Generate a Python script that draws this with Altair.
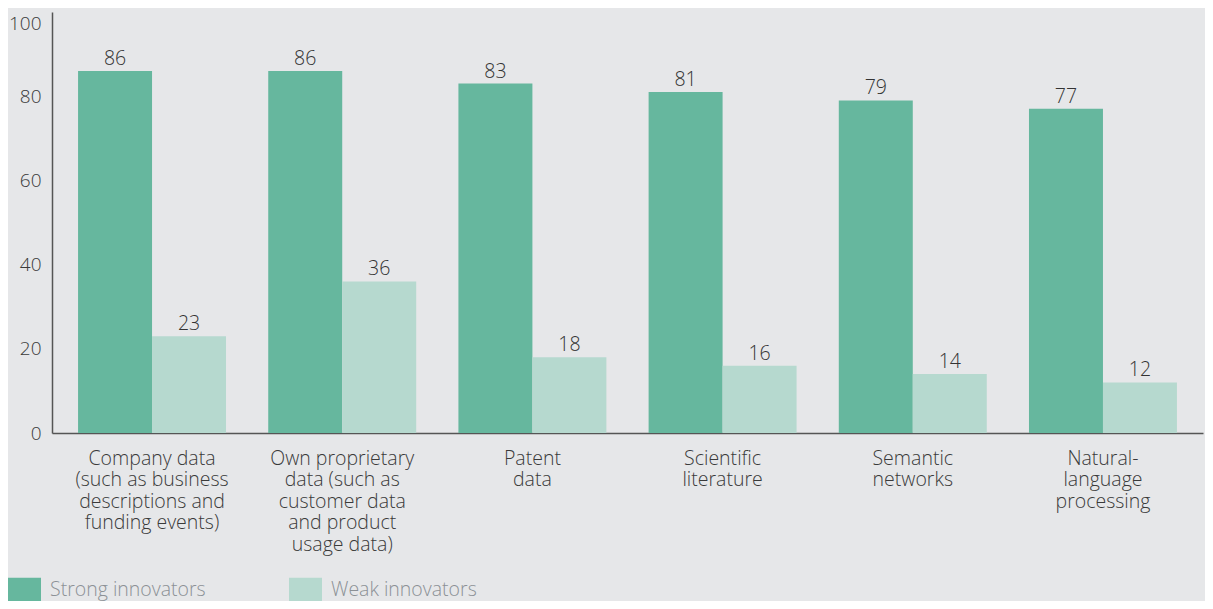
import altair as alt
import pandas as pd

categories = [
    "Company data|(such as business|descriptions and|funding events)",
    "Own proprietary|data (such as|customer data|and product|usage data)",
    "Patent|data",
    "Scientific|literature",
    "Semantic|networks",
    "Natural-|language|processing",
]
strong = [86, 86, 83, 81, 79, 77]
weak = [23, 36, 18, 16, 14, 12]
series = ["Strong innovators", "Weak innovators"]
colors = ["#66b79e", "#b6d9cf"]
y_ticks = [0, 20, 40, 60, 80, 100]

rows = []
for c, s, w in zip(categories, strong, weak):
    rows.append({"cat": c, "series": series[0], "value": s})
    rows.append({"cat": c, "series": series[1], "value": w})
df = pd.DataFrame(rows)

FONT = "Open Sans"
FS = 19.5
FW = 300

x_enc = alt.X(
    "cat:N",
    sort=categories,
    scale=alt.Scale(paddingInner=0.222, paddingOuter=0.137),
    axis=alt.Axis(
        title=None,
        labelAngle=0,
        labelExpr="split(datum.label, '|')",
        labelFontSize=FS,
        labelFontWeight=FW,
        labelColor="#3a3a3a",
        labelFont=FONT,
        labelLineHeight=21.5,
        labelPadding=16,
        ticks=False,
        domainColor="#555555",
        domainWidth=1.5,
        labelBaseline="top",
    ),
)
xo_enc = alt.XOffset("series:N", sort=series, scale=alt.Scale(paddingInner=0, paddingOuter=0))
y_scale = alt.Scale(domain=[0, 100], nice=False)

bars = alt.Chart(df).mark_bar().encode(
    x=x_enc,
    xOffset=xo_enc,
    y=alt.Y(
        "value:Q",
        scale=y_scale,
        axis=alt.Axis(
            title=None,
            values=y_ticks,
            grid=False,
            ticks=False,
            labelFontSize=19,
            labelFontWeight=FW,
            labelColor="#3a3a3a",
            labelFont=FONT,
            labelPadding=11,
            labelBaseline={"condition": {"test": "datum.value == 100", "value": "top"}, "value": "middle"},
            labelOffset={"condition": {"test": "datum.value == 100", "value": 2}, "value": 0},
            domainColor="#555555",
            domainWidth=1.5,
        ),
    ),
    color=alt.Color(
        "series:N",
        sort=series,
        scale=alt.Scale(domain=series, range=colors),
        legend=alt.Legend(
            title=None,
            orient="none",
            legendX=-44,
            legendY=561,
            direction="horizontal",
            symbolType="M-1,-0.73H1V0.73H-1Z",
            symbolSize=1089,
            symbolStrokeWidth=0,
            symbolOpacity=1,
            labelFontSize=FS,
            labelFontWeight=FW,
            labelFont=FONT,
            labelColor="#8c9196",
            labelOffset=9,
            columnPadding=83,
        ),
    ),
)

labels = alt.Chart(df).mark_text(
    baseline="bottom", dy=-2, fontSize=FS, fontWeight=FW, font=FONT, color="#333333"
).encode(
    x=alt.X("cat:N", sort=categories),
    xOffset=xo_enc,
    y=alt.Y("value:Q", scale=y_scale),
    text=alt.Text("value:Q"),
)

chart = (
    alt.layer(bars, labels)
    .properties(
        width=1151,
        height=421,
        background="#e6e7e9",
        padding={"left": 44, "top": 4, "right": 2, "bottom": 168},
        autosize=alt.AutoSizeParams(type="none"),
    )
    .configure_view(stroke=None)
)

chart.save("out.html", embed_options={"renderer": "svg", "actions": False})
